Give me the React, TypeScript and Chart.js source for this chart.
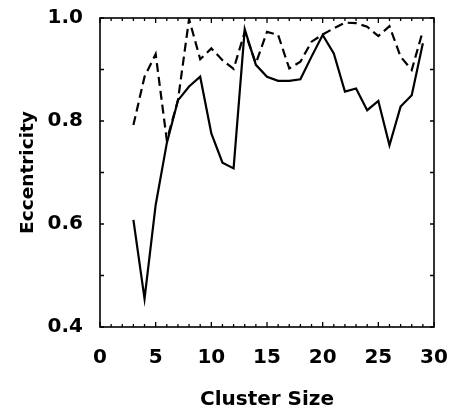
import React, { useEffect, useRef } from "react";
import { Chart, registerables } from "chart.js";

Chart.register(...registerables);

const clusterSizes = [3, 4, 5, 6, 7, 8, 9, 10, 11, 12, 13, 14, 15, 16, 17, 18, 19, 20, 21, 22, 23, 24, 25, 26, 27, 28, 29];
const solidValues = [0.608, 0.455, 0.637, 0.757, 0.84, 0.867, 0.886, 0.776, 0.719, 0.708, 0.978, 0.909, 0.886, 0.878, 0.878, 0.881, 0.925, 0.967, 0.931, 0.857, 0.863, 0.821, 0.839, 0.753, 0.828, 0.85, 0.951];
const dashedValues = [0.792, 0.886, 0.93, 0.763, 0.84, 0.998, 0.92, 0.941, 0.918, 0.901, 0.973, 0.912, 0.973, 0.967, 0.902, 0.915, 0.954, 0.968, 0.98, 0.991, 0.99, 0.983, 0.965, 0.984, 0.925, 0.899, 0.975];
const xTickValues = [0, 5, 10, 15, 20, 25, 30];
const yTickValues = [0.4, 0.6, 0.8, 1.0];

const FONT = "'DejaVu Sans', sans-serif";

const framePlugin = {
  id: "frameTicks",
  afterDraw(chart: any) {
    const { ctx, chartArea } = chart;
    const xs = chart.scales.x;
    const ys = chart.scales.y;
    ctx.save();
    ctx.strokeStyle = "#000";
    ctx.lineWidth = 1.6;
    ctx.strokeRect(chartArea.left, chartArea.top, chartArea.right - chartArea.left, chartArea.bottom - chartArea.top);
    ctx.lineWidth = 1.3;
    ctx.beginPath();
    for (let v = xs.min; v <= xs.max + 1e-9; v += 1) {
      const px = xs.getPixelForValue(v);
      const len = Math.round(v) % 5 === 0 ? 5 : 3;
      ctx.moveTo(px, chartArea.bottom);
      ctx.lineTo(px, chartArea.bottom - len);
      ctx.moveTo(px, chartArea.top);
      ctx.lineTo(px, chartArea.top + len);
    }
    for (let i = 0; i <= Math.round((ys.max - ys.min) / 0.1); i++) {
      const v = ys.min + i * 0.1;
      const py = ys.getPixelForValue(v);
      const len = 4;
      ctx.moveTo(chartArea.left, py);
      ctx.lineTo(chartArea.left + len, py);
      ctx.moveTo(chartArea.right, py);
      ctx.lineTo(chartArea.right - len, py);
    }
    ctx.stroke();
    ctx.restore();
  },
};

export default function App() {
  const ref = useRef<HTMLCanvasElement | null>(null);
  useEffect(() => {
    if (!ref.current) return;
    const chart = new Chart(ref.current, {
      type: "line",
      data: {
        datasets: [
          {
            label: "solid",
            data: clusterSizes.map((x, i) => ({ x, y: solidValues[i] })),
            borderColor: "#000",
            borderWidth: 2.2,
            pointRadius: 0,
            fill: false,
            tension: 0,
          },
          {
            label: "dashed",
            data: clusterSizes.map((x, i) => ({ x, y: dashedValues[i] })),
            borderColor: "#000",
            borderWidth: 2.2,
            borderDash: [9, 5],
            pointRadius: 0,
            fill: false,
            tension: 0,
          },
        ],
      },
      options: {
        responsive: false,
        animation: false,
        layout: { padding: { top: 18, right: 19, left: 0, bottom: 0 } },
        plugins: { legend: { display: false }, tooltip: { enabled: false } },
        scales: {
          x: {
            type: "linear",
            min: 0,
            max: 30,
            afterBuildTicks: (scale: any) => {
              scale.ticks = xTickValues.map((v) => ({ value: v }));
            },
            afterFit: (scale: any) => {
              scale.height = 86;
              scale.paddingLeft = 0;
              scale.paddingRight = 0;
            },
            grid: { display: false, drawTicks: false },
            border: { display: false },
            ticks: {
              color: "#000",
              padding: 19,
              maxRotation: 0,
              font: { family: FONT, size: 20, weight: "bold" },
            },
            title: {
              display: true,
              text: "Cluster Size",
              color: "#000",
              padding: { top: 0, bottom: 1 },
              font: { family: FONT, size: 20, weight: "bold" },
            },
          },
          y: {
            type: "linear",
            min: 0.4,
            max: 1.0,
            afterBuildTicks: (scale: any) => {
              scale.ticks = yTickValues.map((v) => ({ value: v }));
            },
            afterFit: (scale: any) => {
              scale.width = 100;
              scale.paddingTop = 0;
              scale.paddingBottom = 0;
            },
            grid: { display: false, drawTicks: false },
            border: { display: false },
            ticks: {
              color: "#000",
              padding: 17,
              callback: (v: any) => Number(v).toFixed(1),
              font: { family: FONT, size: 20, weight: "bold" },
            },
            title: {
              display: true,
              text: "Eccentricity",
              color: "#000",
              padding: { top: 17, bottom: 0 },
              font: { family: FONT, size: 18.5, weight: "bold" },
            },
          },
        },
      },
      plugins: [framePlugin],
    } as any);
    return () => chart.destroy();
  }, []);
  return (
    <div style={{ position: "absolute", left: 0, top: 0, width: 453, height: 413, background: "#fff" }}>
      <canvas ref={ref} width={453} height={413} />
    </div>
  );
}
